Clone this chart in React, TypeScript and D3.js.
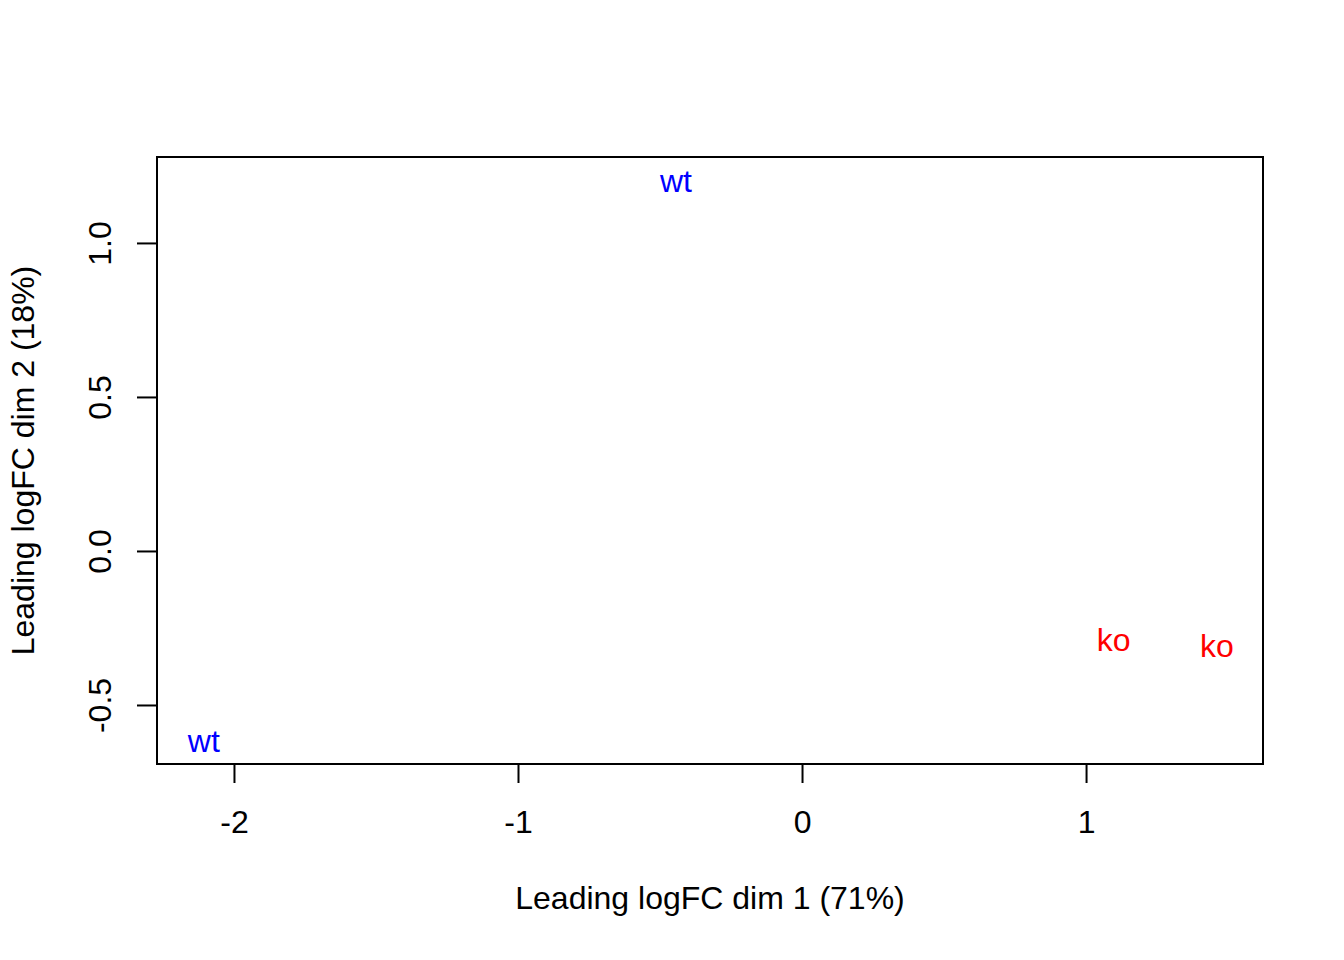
import * as d3 from "d3";
import { useEffect, useRef } from "react";

// sample labels and MDS coordinates
const sampleLabels = ["wt", "wt", "ko", "ko"];
const sampleGroups = ["wt", "wt", "ko", "ko"];
const dim1 = [-0.444, -2.106, 1.097, 1.461];
const dim2 = [1.201, -0.617, -0.289, -0.308];

const xTicks = [-2, -1, 0, 1];
const yTicks = [-0.5, 0.0, 0.5, 1.0];
const xTickLabels = ["-2", "-1", "0", "1"];
const yTickLabels = ["-0.5", "0.0", "0.5", "1.0"];
const xDomain = [-2.271, 1.623];
const yDomain = [-0.6916, 1.279];

const groupColors: Record<string, string> = { wt: "#0000FF", ko: "#FF0000" };

function MDSPlot() {
  const ref = useRef<SVGSVGElement | null>(null);

  useEffect(() => {
    const width = 1344,
      height = 960;
    const margin = { top: 157, right: 81, bottom: 196, left: 157 };
    const font = "'Liberation Sans', Arial, Helvetica, sans-serif";

    const svg = d3.select(ref.current);
    svg.selectAll("*").remove();
    svg.attr("width", width).attr("height", height);

    svg.append("rect").attr("width", width).attr("height", height).attr("fill", "white");

    const x = d3
      .scaleLinear()
      .domain(xDomain)
      .range([margin.left, width - margin.right]);
    const y = d3
      .scaleLinear()
      .domain(yDomain)
      .range([height - margin.bottom, margin.top]);

    const bottom = height - margin.bottom;
    const left = margin.left;

    // box around the plot region
    svg
      .append("rect")
      .attr("x", left)
      .attr("y", margin.top)
      .attr("width", width - margin.right - left)
      .attr("height", bottom - margin.top)
      .attr("fill", "none")
      .attr("stroke", "black")
      .attr("stroke-width", 2);

    // x axis
    const xAxis = d3
      .axisBottom(x)
      .tickValues(xTicks)
      .tickSize(19)
      .tickSizeOuter(0)
      .tickFormat((_, i) => xTickLabels[i]);
    const gx = svg.append("g").attr("transform", `translate(0,${bottom})`).call(xAxis);
    gx.select(".domain")
      .attr("d", `M${x(xTicks[0])},0H${x(xTicks[xTicks.length - 1])}`)
      .attr("stroke-width", 2);
    gx.selectAll(".tick line").attr("stroke-width", 2);
    gx.selectAll(".tick text")
      .attr("y", 69)
      .attr("dy", null)
      .attr("font-size", 32)
      .attr("font-family", font)
      .attr("fill", "black");

    // y axis
    const yAxis = d3
      .axisLeft(y)
      .tickValues(yTicks)
      .tickSize(20)
      .tickSizeOuter(0)
      .tickFormat((_, i) => yTickLabels[i]);
    const gy = svg.append("g").attr("transform", `translate(${left},0)`).call(yAxis);
    gy.select(".domain")
      .attr("d", `M0,${y(yTicks[0])}V${y(yTicks[yTicks.length - 1])}`)
      .attr("stroke-width", 2);
    gy.selectAll(".tick line").attr("stroke-width", 2);
    gy.selectAll(".tick text")
      .attr("x", null)
      .attr("dy", null)
      .attr("transform", "translate(-46,0) rotate(-90)")
      .attr("text-anchor", "middle")
      .attr("font-size", 32)
      .attr("font-family", font)
      .attr("fill", "black");
    svg.selectAll(".domain, .tick line").attr("stroke", "black");

    // axis titles
    svg
      .append("text")
      .attr("x", (left + width - margin.right) / 2)
      .attr("y", bottom + 145)
      .attr("text-anchor", "middle")
      .attr("font-size", 32)
      .attr("font-family", font)
      .text("Leading logFC dim 1 (71%)");

    svg
      .append("text")
      .attr("transform", `translate(${left - 123},${(margin.top + bottom) / 2}) rotate(-90)`)
      .attr("text-anchor", "middle")
      .attr("font-size", 32)
      .attr("font-family", font)
      .text("Leading logFC dim 2 (18%)");

    // sample labels
    svg
      .selectAll("text.sample")
      .data(sampleLabels)
      .enter()
      .append("text")
      .attr("class", "sample")
      .attr("x", (_, i) => x(dim1[i]))
      .attr("y", (_, i) => y(dim2[i]))
      .attr("dy", "0.35em")
      .attr("text-anchor", "middle")
      .attr("font-size", 32)
      .attr("font-family", font)
      .attr("fill", (_, i) => groupColors[sampleGroups[i]])
      .text((d) => d);
  }, []);

  return <svg ref={ref} style={{ position: "absolute", left: 0, top: 0, display: "block" }}></svg>;
}

export default function App() {
  return <MDSPlot />;
}
